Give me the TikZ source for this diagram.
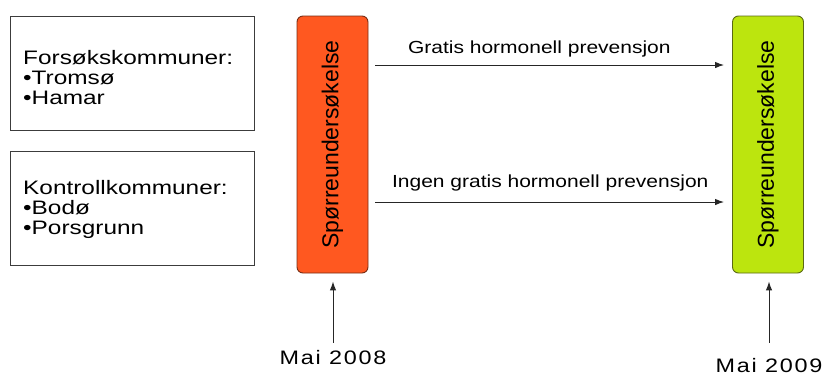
\documentclass[tikz,border=0pt]{standalone}
\usepackage{fontspec}
\usepackage{graphicx}
\setmainfont[FakeStretch=1.2]{Liberation Sans}
\newfontfamily\plainsans{Liberation Sans}
\newfontfamily\widesans[FakeStretch=1.25]{Liberation Sans}
\newfontfamily\datesans[FakeStretch=1.2,LetterSpace=9]{Liberation Sans}
\usetikzlibrary{arrows.meta}
\definecolor{orangefill}{RGB}{255,88,32}
\definecolor{orangeline}{RGB}{120,45,20}
\definecolor{greenfill}{RGB}{188,229,14}
\definecolor{greenline}{RGB}{90,105,20}
\definecolor{boxline}{RGB}{60,60,60}
\begin{document}
\begin{tikzpicture}[x=1pt,y=-1pt,
  infobox/.style={draw=boxline,line width=0.9pt,minimum width=244pt,minimum height=114pt,inner sep=0pt},
  survey/.style={line width=0.9pt,rounded corners=6pt,minimum width=71pt,minimum height=257pt,inner sep=0pt},
  listtext/.style={anchor=base west,align=left,inner sep=0pt,font=\widesans\fontsize{19.5}{20}\selectfont},
  arr/.style={line width=1pt,draw=black!85,-{Latex[length=9pt,width=6.5pt]}},
  lbl/.style={inner sep=0pt,font=\fontsize{17.5}{20}\selectfont},
  datelbl/.style={inner sep=0pt,font=\datesans\fontsize{19.5}{22}\selectfont}]
\useasboundingbox (0,0) rectangle (825,378);
\node[infobox] (b1) at (132,73) {};
\node[infobox] (b2) at (132,208) {};
\node[listtext] (t1) at (23,104) {Forsøkskommuner:\\•Tromsø\\•Hamar};
\node[listtext] (t2) at (23,234) {Kontrollkommuner:\\•Bodø\\•Porsgrunn};
\node[survey,draw=orangeline,fill=orangefill] (orange) at (332.5,144.5)
  {\rotatebox{90}{\plainsans\fontsize{23}{25}\selectfont Spørreundersøkelse}};
\node[survey,draw=greenline,fill=greenfill] (green) at (768,144.5)
  {\rotatebox{90}{\plainsans\fontsize{23}{25}\selectfont Spørreundersøkelse}};
\draw[arr,shorten <=7pt,shorten >=8pt] (orange.east |- 0,65) -- (green.west |- 0,65)
  node[lbl,pos=0.47,above=7pt] (l1) {Gratis hormonell prevensjon};
\draw[arr,shorten <=7pt,shorten >=8pt] (orange.east |- 0,202) -- (green.west |- 0,202)
  node[lbl,pos=0.5,above=10pt] (l2) {Ingen gratis hormonell prevensjon};
\node[datelbl] (m1) at (333,358) {Mai 2008};
\node[datelbl] (m2) at (769,366) {Mai 2009};
\draw[arr,shorten <=8pt,shorten >=8pt] (m1.north) -- (m1.north |- orange.south);
\draw[arr,shorten <=16pt,shorten >=8pt] (m2.north) -- (m2.north |- green.south);
\end{tikzpicture}
\end{document}
